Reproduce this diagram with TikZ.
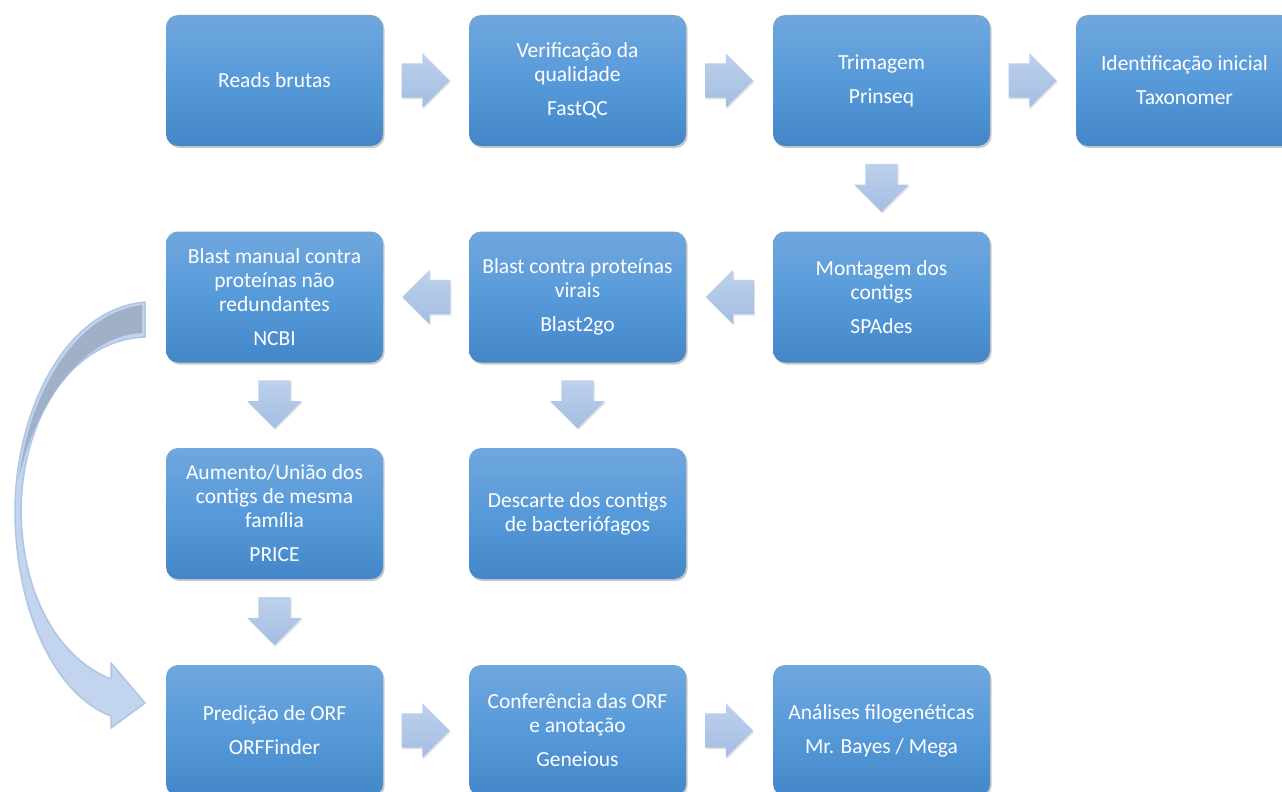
\documentclass[tikz,border=0pt]{standalone}
\usepackage{fontspec}
\setmainfont{Carlito}
\usetikzlibrary{shapes.arrows,shadows,calc}
\definecolor{boxtop}{HTML}{70A7DD}
\definecolor{boxmid}{HTML}{569ADA}
\definecolor{boxbot}{HTML}{4487C8}
\definecolor{arrtop}{HTML}{BED1EC}
\definecolor{arrbot}{HTML}{A3BDE2}
\definecolor{curvefill}{HTML}{C3D5EE}
\definecolor{curveedge}{HTML}{AFC5E3}
\definecolor{curveback}{HTML}{9FB0C8}
\begin{document}
\begin{tikzpicture}[x=1pt,y=-1pt,
  box/.style={rectangle, rounded corners=12pt, minimum width=217pt, minimum height=131pt,
    inner sep=0pt, top color=boxtop, bottom color=boxbot, middle color=boxmid,
    text=white, align=center, font=\fontsize{21.5}{24}\selectfont,
    drop shadow={shadow xshift=1.5pt, shadow yshift=-2pt, opacity=0.3, fill=black!70}},
  blockarr/.style={single arrow, minimum height=48pt, inner xsep=0pt, inner ysep=17pt,
    single arrow head extend=10pt, top color=arrtop, bottom color=arrbot,
    draw=none, drop shadow={shadow xshift=1pt, shadow yshift=-1.5pt, opacity=0.2, fill=black!60}},
  rarr/.style={blockarr, xshift=-9pt},
  larr/.style={blockarr, shape border rotate=180, xshift=9pt},
  darr/.style={blockarr, shape border rotate=270, inner ysep=0pt, inner xsep=16pt,
    single arrow head extend=11pt, yshift=9pt}
]
\useasboundingbox (0,0) rectangle (1282,792);
\clip (0,0) rectangle (1282,792);

% boxes
\node[box] (raw)   at (274.5,80.5)  {Reads brutas};
\node[box] (qc)    at (577.5,80.5)  {Verificação da\\qualidade\\[10pt]FastQC};
\node[box] (trim)  at (881.5,80.5)  {Trimagem\\[10pt]Prinseq};
\node[box] (tax)   at (1184.5,80.5) {Identificação inicial\\[10pt]Taxonomer};
\node[box] (asm)   at (881.5,297)   {Montagem dos\\contigs\\[10pt]SPAdes};
\node[box] (bv)    at (577.5,297)   {Blast contra proteínas\\virais\\[10pt]Blast2go};
\node[box] (bm)    at (274.5,297)   {Blast manual contra\\proteínas não\\redundantes\\[10pt]NCBI};
\node[box] (price) at (274.5,513.5) {Aumento/União dos\\contigs de mesma\\família\\[10pt]PRICE};
\node[box] (desc)  at (577.5,513.5) {Descarte dos contigs\\de bacteriófagos};
\node[box] (orf)   at (274.5,730.5) {Predição de ORF\\[10pt]ORFFinder};
\node[box] (conf)  at (577.5,730.5) {Conferência das ORF\\e anotação\\[10pt]Geneious};
\node[box] (phy)   at (881.5,730.5) {Análises filogenéticas\\[10pt]Mr. Bayes / Mega};

% block arrows
\node[rarr] (a1) at ($(raw.east)!0.5!(qc.west)$) {};
\node[rarr] (a2) at ($(qc.east)!0.5!(trim.west)$) {};
\node[rarr] (a3) at ($(trim.east)!0.5!(tax.west)$) {};
\node[darr] (a4) at ($(trim.south)!0.5!(asm.north)$) {};
\node[larr] (a5) at ($(asm.west)!0.5!(bv.east)$) {};
\node[larr] (a6) at ($(bv.west)!0.5!(bm.east)$) {};
\node[darr] (a7) at ($(bm.south)!0.5!(price.north)$) {};
\node[darr] (a8) at ($(bv.south)!0.5!(desc.north)$) {};
\node[darr] (a9) at ($(price.south)!0.5!(orf.north)$) {};
\node[rarr] (a10) at ($(orf.east)!0.5!(conf.west)$) {};
\node[rarr] (a11) at ($(conf.east)!0.5!(phy.west)$) {};

% curved arrow from NCBI box to ORF box
\path[fill=curvefill, draw=curveedge, line width=1.5pt, line join=round]
  (145,302) .. controls (60,310) and (15,420) .. (15,510)
  .. controls (15,610) and (55,695) .. (111,716)
  -- (111,728) -- (145,703) -- (111,663) -- (111,679)
  .. controls (62,660) and (22,600) .. (21,510)
  .. controls (22,420) and (70,340) .. (145,337) -- cycle;
\path[fill=curveback]
  (142,305) .. controls (75,313) and (28,395) .. (19,480)
  .. controls (32,410) and (80,336) .. (142,333) -- cycle;
\end{tikzpicture}
\end{document}
